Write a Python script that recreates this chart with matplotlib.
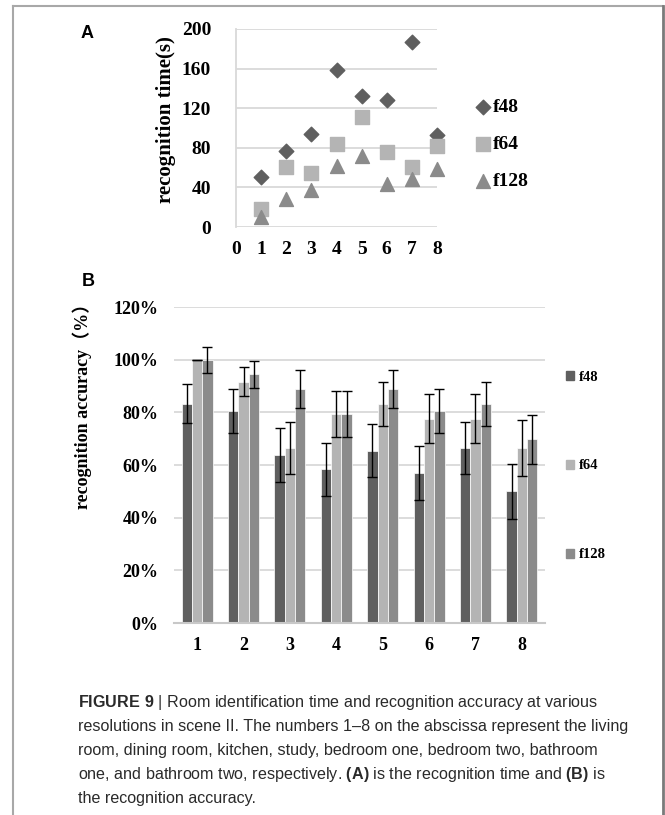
import numpy as np
import matplotlib
matplotlib.use('Agg')
import matplotlib.pyplot as plt
from matplotlib.lines import Line2D
from matplotlib.patches import Patch

# panel A : recognition time (s) for rooms 1-8
rooms = [1, 2, 3, 4, 5, 6, 7, 8]
time_f48 = [50, 77, 94, 159, 132, 128, 187, 93]
time_f64 = [18, 61, 55, 84, 111, 76, 61, 82]
time_f128 = [10, 28, 37, 62, 72, 43, 48, 59]

# panel B : recognition accuracy (%) with error bars
acc_f48 = [83.3, 80.5, 63.8, 58.3, 65.5, 57.0, 66.5, 50.0]
err_f48 = [7.5, 8.3, 10.4, 10.1, 10.1, 10.2, 9.9, 10.5]
acc_f64 = [100.0, 91.7, 66.6, 79.3, 83.3, 77.6, 77.5, 66.4]
err_f64 = [0.0, 5.5, 9.9, 8.8, 8.4, 9.3, 9.3, 10.5]
acc_f128 = [100.0, 94.4, 88.9, 79.3, 88.9, 80.5, 83.3, 69.8]
err_f128 = [5.0, 5.2, 7.1, 8.8, 7.1, 8.3, 8.3, 9.3]

series = ['f48', 'f64', 'f128']
c48, c64, c128 = '#5f5f5f', '#b4b4b4', '#8b8b8b'
grid_c = '#d9d9d9'

plt.rcParams['font.family'] = ['Liberation Serif', 'Noto Sans CJK SC']
plt.rcParams['font.weight'] = 'bold'
plt.rcParams['mathtext.fontset'] = 'custom'
plt.rcParams['mathtext.rm'] = 'Liberation Sans'
plt.rcParams['mathtext.bf'] = 'Liberation Sans:bold'

W, H = 665, 815
fig = plt.figure(figsize=(W / 100, H / 100), dpi=100)

def fx(px):
    return px / W

def fy(py):
    return 1 - py / H

# outer frame
fig.add_artist(Line2D([fx(13), fx(663)], [fy(6), fy(6)], color='#a8a8a8', lw=1.5))
fig.add_artist(Line2D([fx(13), fx(13)], [fy(6), 0], color='#a8a8a8', lw=1.5))
fig.add_artist(Line2D([fx(663), fx(663)], [fy(6), 0], color='#7a7a7a', lw=2))

# ---------------- panel A
axA = fig.add_axes([fx(236), fy(227), fx(437) - fx(236), (227 - 29) / H])
axA.scatter(rooms, time_f48, marker='D', s=55, color=c48, zorder=3, clip_on=False, label='f48')
axA.scatter(rooms, time_f64, marker='s', s=95, color=c64, zorder=3, clip_on=False, label='f64')
axA.scatter(rooms, time_f128, marker='^', s=100, color=c128, zorder=3, clip_on=False, label='f128')
axA.set_xlim(0, 8)
axA.set_ylim(0, 200)
axA.set_xticks(range(9))
axA.set_yticks(range(0, 201, 40))
axA.yaxis.grid(True, color=grid_c, lw=1.3)
axA.set_axisbelow(True)
for s in ['top', 'right', 'bottom']:
    axA.spines[s].set_visible(False)
axA.spines['left'].set_color(grid_c)
axA.spines['left'].set_linewidth(1.3)
axA.tick_params(axis='both', length=0, labelsize=14)
axA.tick_params(axis='y', pad=18)
axA.tick_params(axis='x', pad=10)
axA.legend(loc='center left', bbox_to_anchor=(fx(476), fy(144)), bbox_transform=fig.transFigure,
           frameon=False, fontsize=14, handlelength=0.7, handletextpad=0.15,
           labelspacing=1.0, borderpad=0, borderaxespad=0, scatterpoints=1)
fig.text(fx(166), fy(120), 'recognition time(s)', rotation=90, ha='center', va='center', fontsize=15)
fig.text(fx(87), fy(34), 'A', family='Liberation Sans', fontsize=13, ha='center', va='center')

# ---------------- panel B
axB = fig.add_axes([fx(174), fy(623), fx(545) - fx(174), (623 - 307) / H])
x = np.arange(len(rooms))
bw = 0.222
ekw = dict(ecolor='black', elinewidth=1, capsize=3.5, capthick=1)
axB.bar(x - bw, acc_f48, bw, yerr=err_f48, color=c48, edgecolor='white', lw=0.5, error_kw=ekw, label='f48')
axB.bar(x, acc_f64, bw, yerr=err_f64, color=c64, edgecolor='white', lw=0.5, error_kw=ekw, label='f64')
axB.bar(x + bw, acc_f128, bw, yerr=err_f128, color=c128, edgecolor='white', lw=0.5, error_kw=ekw, label='f128')
axB.set_xlim(-0.5, 7.5)
axB.set_ylim(0, 120)
axB.set_xticks(x)
axB.set_xticklabels([str(r) for r in rooms])
axB.set_yticks(range(0, 121, 20))
axB.set_yticklabels(['%d%%' % v for v in range(0, 121, 20)])
axB.yaxis.grid(True, color=grid_c, lw=1.3)
axB.set_axisbelow(True)
for s in ['top', 'right', 'left']:
    axB.spines[s].set_visible(False)
axB.spines['bottom'].set_color('#c8c8c8')
axB.spines['bottom'].set_linewidth(1.5)
axB.tick_params(axis='both', length=0, labelsize=13)
axB.tick_params(axis='y', pad=11)
axB.tick_params(axis='x', pad=10)
handles = [Patch(color=c) for c in (c48, c64, c128)]
axB.legend(handles, series, loc='center left', bbox_to_anchor=(fx(566), fy(466)),
           bbox_transform=fig.transFigure, frameon=False, fontsize=10.5,
           handlelength=0.55, handleheight=0.55, handletextpad=0.3,
           labelspacing=5.2, borderpad=0, borderaxespad=0)
fig.text(fx(82), fy(402), 'recognition accuracy（%）', rotation=90, ha='center', va='center', fontsize=13)
fig.text(fx(88), fy(281), 'B', family='Liberation Sans', fontsize=13, ha='center', va='center')

# ---------------- caption
cap = [
    r'$\mathbf{FIGURE\ 9}$ | Room identification time and recognition accuracy at various',
    'resolutions in scene II. The numbers 1–8 on the abscissa represent the living',
    'room, dining room, kitchen, study, bedroom one, bedroom two, bathroom',
    r'one, and bathroom two, respectively. $\mathbf{(A)}$ is the recognition time and $\mathbf{(B)}$ is',
    'the recognition accuracy.',
]
for i, line in enumerate(cap):
    fig.text(fx(78), fy(703 + 24 * i), line, family='Liberation Sans', fontweight='normal',
             fontsize=11.6, color='#2a2a2a', ha='left', va='center')

fig.savefig('out.png', dpi=100)
